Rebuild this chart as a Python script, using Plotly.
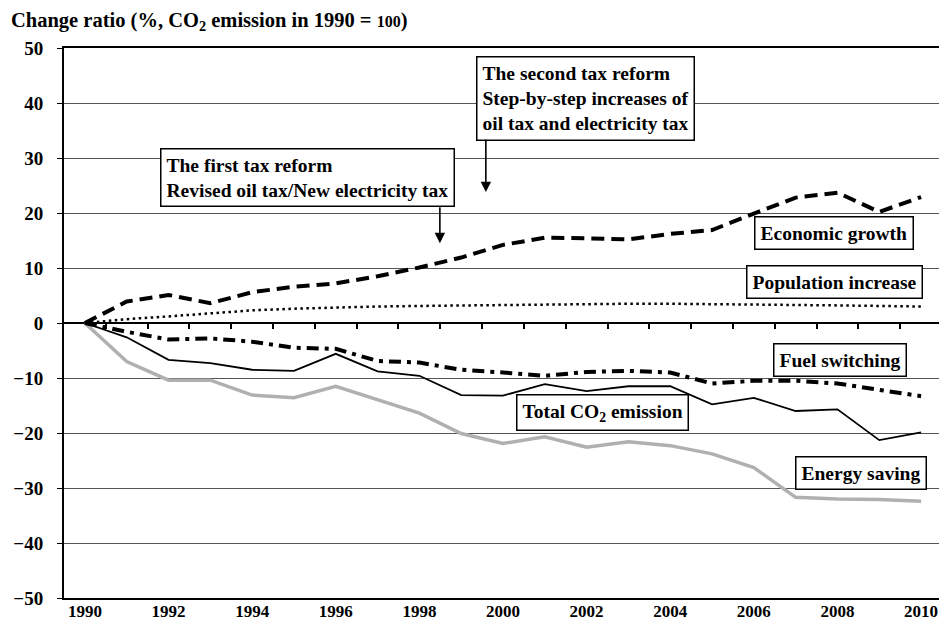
import plotly.graph_objects as go

years = list(range(1990, 2011))
tick_years = list(range(1990, 2011, 2))
y_ticks = list(range(-50, 51, 10))

economic_growth = [0, 3.9, 5.1, 3.6, 5.6, 6.6, 7.2, 8.5, 10.1, 11.9, 14.2, 15.5,
                   15.4, 15.2, 16.2, 16.9, 19.9, 22.8, 23.7, 20.2, 22.9]
population_increase = [0, 0.7, 1.2, 1.8, 2.3, 2.6, 2.85, 3.0, 3.1, 3.2, 3.3, 3.4,
                       3.5, 3.5, 3.5, 3.45, 3.4, 3.3, 3.2, 3.1, 3.0]
fuel_switching = [0, -1.6, -3.0, -2.8, -3.4, -4.5, -4.7, -6.9, -7.2, -8.5, -9.0, -9.6,
                  -8.9, -8.7, -9.0, -11.0, -10.5, -10.5, -11.0, -12.2, -13.3]
total_co2 = [0, -2.6, -6.7, -7.3, -8.5, -8.7, -5.6, -8.8, -9.6, -13.1, -13.2, -11.1,
             -12.4, -11.5, -11.5, -14.8, -13.6, -16.0, -15.7, -21.3, -19.9]
energy_saving = [0, -7.0, -10.4, -10.4, -13.1, -13.6, -11.5, -13.9, -16.4, -20.1, -21.9, -20.7,
                 -22.6, -21.6, -22.3, -23.8, -26.3, -31.7, -32.0, -32.1, -32.4]

FONT = "Liberation Serif"

# the page body has an 8px margin: size the figure to fit the 947x632 window
W, H = 939, 624
ML, MR, MT, MB = 56, 5, 40, 34

fig = go.Figure()
fig.add_trace(go.Scatter(x=years, y=energy_saving, mode="lines", name="Energy saving",
                         line=dict(color="#b0b0b0", width=3.5)))
fig.add_trace(go.Scatter(x=years, y=total_co2, mode="lines", name="Total CO2 emission",
                         line=dict(color="black", width=1.8)))
fig.add_trace(go.Scatter(x=years, y=fuel_switching, mode="lines", name="Fuel switching",
                         line=dict(color="black", width=4, dash="12px,6px,4px,6px")))
fig.add_trace(go.Scatter(x=years, y=population_increase, mode="lines", name="Population increase",
                         line=dict(color="black", width=2.5, dash="2.5px,3.5px")))
fig.add_trace(go.Scatter(x=years, y=economic_growth, mode="lines", name="Economic growth",
                         line=dict(color="black", width=4, dash="13px,7px")))
# invisible helper so that the zero-line tick axis is drawn
fig.add_trace(go.Scatter(x=[years[0]], y=[0], xaxis="x2", mode="markers",
                         marker=dict(opacity=0), hoverinfo="skip", showlegend=False))

labels = [
    ("Economic growth", 2007.91, 16.45),
    ("Population increase", 2007.94, 7.45),
    ("Fuel switching", 2008.05, -6.64),
    ("Total CO<sub>2</sub> emission", 2002.37, -16.2),
    ("Energy saving", 2008.56, -27.2),
]
for text, x, y in labels:
    fig.add_annotation(x=x, y=y, xref="x", yref="y", text=text, showarrow=False,
                       font=dict(family=FONT, size=19.5, color="black", weight="bold"),
                       bgcolor="white", bordercolor="black", borderwidth=1.5, borderpad=5)

fig.add_annotation(x=1995.33, y=26.45, xref="x", yref="y",
                   text="The first tax reform<br>Revised oil tax/New electricity tax",
                   align="left", showarrow=False,
                   font=dict(family=FONT, size=19.5, color="black", weight="bold"),
                   bgcolor="white", bordercolor="black", borderwidth=1.5, borderpad=5)
fig.add_annotation(x=2001.97, y=40.8, xref="x", yref="y",
                   text="The second tax reform<br>Step-by-step increases of<br>oil tax and electricity tax",
                   align="left", showarrow=False,
                   font=dict(family=FONT, size=19.5, color="black", weight="bold"),
                   bgcolor="white", bordercolor="black", borderwidth=1.5, borderpad=5)

# arrows
fig.add_annotation(x=1998.49, y=14.5, ax=1998.49, ay=21.3, xref="x", yref="y",
                   axref="x", ayref="y", text="", showarrow=True, arrowhead=2,
                   arrowsize=1.3, arrowwidth=1.6, arrowcolor="black")
fig.add_annotation(x=1999.59, y=23.8, ax=1999.59, ay=33.6, xref="x", yref="y",
                   axref="x", ayref="y", text="", showarrow=True, arrowhead=2,
                   arrowsize=1.3, arrowwidth=1.6, arrowcolor="black")

# chart title (top-left, outside the plot area)
plot_w = W - ML - MR
plot_h = H - MT - MB
fig.add_annotation(x=(1 - ML) / plot_w, y=1 + (MT - 13) / plot_h, xref="paper", yref="paper",
                   xanchor="left", yanchor="middle", showarrow=False,
                   text="Change ratio (%, CO<sub>2</sub> emission in 1990 = <span style='font-size:16px'>100</span>)",
                   font=dict(family=FONT, size=20.5, color="black", weight="bold"))

fig.update_layout(
    width=W, height=H,
    margin=dict(l=ML, r=MR, t=MT, b=MB, autoexpand=False),
    paper_bgcolor="white", plot_bgcolor="white",
    showlegend=False,
    xaxis=dict(range=[1989.5, 2010.5], tickvals=tick_years, ticktext=[str(v) for v in tick_years],
               ticks="", showgrid=False, zeroline=False, automargin=False,
               showline=True, linecolor="black", linewidth=2, mirror=True,
               tickfont=dict(family=FONT, size=17, color="black", weight="bold"),
               ticklabelstandoff=-3),
    xaxis2=dict(range=[1989.5, 2010.5], overlaying="x", anchor="free", position=0.5,
                tickvals=[y + 0.5 for y in years[:-1]], ticks="outside", ticklen=5,
                tickwidth=1.5, tickcolor="black", automargin=False,
                showticklabels=False, showgrid=False, zeroline=False, showline=False),
    yaxis=dict(range=[-50, 50], tickvals=y_ticks, ticks="outside", ticklen=5,
               tickcolor="black", showgrid=True, gridcolor="#555555", gridwidth=1,
               zeroline=True, zerolinecolor="black", zerolinewidth=2, automargin=False,
               showline=True, linecolor="black", linewidth=2, mirror=True,
               tickfont=dict(family=FONT, size=19, color="black", weight="bold"),
               ticklabelstandoff=10),
)

fig.write_html("out.html")
